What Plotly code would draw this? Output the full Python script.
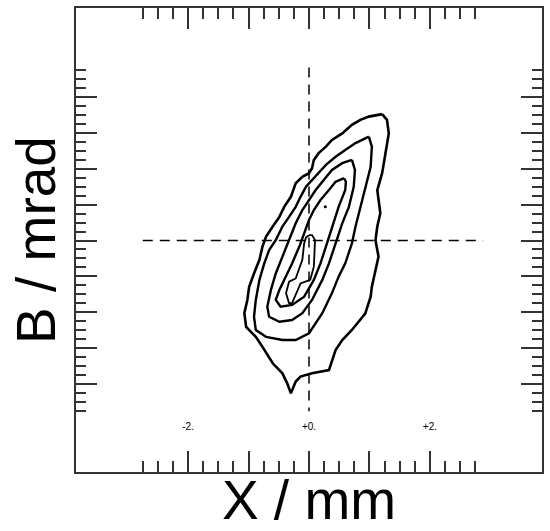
import plotly.graph_objects as go

# ---- data (x in mm, B in mrad) ----
outer_x = [1.21, 0.99, 0.85, 0.71, 0.55, 0.38, 0.28, 0.16, 0.08, 0.05, 0.00, -0.11, -0.22, -0.30, -0.41, -0.49,
           -0.60, -0.71, -0.77, -0.82, -0.91, -0.99, -1.02, -1.07, -1.04, -0.88, -0.77, -0.60, -0.44, -0.36, -0.30,
           -0.22, -0.14, 0.05, 0.33, 0.44, 0.55, 0.71, 0.93, 1.02, 1.04, 1.10, 1.15, 1.10, 1.13, 1.18, 1.13,
           1.21, 1.26, 1.32, 1.29, 1.21]
outer_y = [3.53, 3.46, 3.37, 3.23, 2.99, 2.81, 2.62, 2.44, 2.25, 2.02, 1.88, 1.78, 1.60, 1.22, 0.94, 0.66,
           0.39, 0.11, -0.17, -0.54, -0.92, -1.29, -1.66, -2.03, -2.41, -2.69, -2.97, -3.43, -3.71, -3.99, -4.27,
           -3.94, -3.80, -3.71, -3.62, -3.06, -2.78, -2.50, -2.04, -1.57, -1.29, -0.82, -0.45, 0.01, 0.39,
           0.76, 1.41, 1.88, 2.44, 2.99, 3.37, 3.53]

ring2_x = [0.99, 0.77, 0.60, 0.44, 0.28, 0.16, 0.05, -0.05, -0.14, -0.22, -0.33, -0.44, -0.55, -0.66, -0.74,
           -0.82, -0.88, -0.91, -0.88, -0.71, -0.44, -0.22, 0.00, 0.22, 0.38, 0.49, 0.60, 0.71, 0.77, 0.85, 0.93,
           1.02, 1.04, 0.99]
ring2_y = [2.90, 2.72, 2.53, 2.34, 2.11, 1.88, 1.69, 1.50, 1.22, 0.94, 0.66, 0.39, 0.01, -0.27, -0.64,
           -1.10, -1.66, -2.13, -2.50, -2.69, -2.78, -2.78, -2.59, -2.03, -1.47, -1.01, -0.64, -0.08, 0.39, 0.94,
           1.50, 2.06, 2.62, 2.90]

ring3_x = [0.71, 0.55, 0.38, 0.25, 0.11, 0.00, -0.11, -0.22, -0.33, -0.44, -0.55, -0.63, -0.69, -0.66, -0.49,
           -0.28, -0.11, 0.05, 0.22, 0.33, 0.44, 0.55, 0.66, 0.74, 0.76, 0.71]
ring3_y = [2.25, 2.16, 1.97, 1.69, 1.41, 1.13, 0.85, 0.48, 0.01, -0.45, -0.92, -1.38, -1.85, -2.13, -2.27,
           -2.22, -2.03, -1.66, -1.10, -0.64, -0.08, 0.48, 0.94, 1.50, 1.97, 2.25]

ring4_x = [0.58, 0.44, 0.33, 0.19, 0.08, 0.00, -0.08, -0.16, -0.28, -0.38, -0.49, -0.55, -0.47, -0.28, -0.08,
           0.08, 0.19, 0.28, 0.38, 0.49, 0.60, 0.61, 0.58]
ring4_y = [1.74, 1.64, 1.41, 1.13, 0.85, 0.57, 0.20, -0.17, -0.64, -1.01, -1.38, -1.66, -1.85, -1.80, -1.57,
           -1.10, -0.64, -0.17, 0.39, 0.94, 1.41, 1.64, 1.74]

ring5_x = [0.00, -0.05, -0.08, -0.11, -0.22, -0.33, -0.38, -0.33, -0.28, -0.22, -0.14, 0.02, 0.08, 0.10,
           0.05, 0.00]
ring5_y = [0.15, 0.08, -0.08, -0.54, -1.06, -1.15, -1.47, -1.75, -1.75, -1.50, -1.20, -1.10, -0.73, 0.01,
           0.15, 0.15]

peak_x = [0.27]
peak_y = [0.94]

cross_h_x = [-2.75, 2.88]
cross_h_y = [0.0, 0.0]
cross_v_x = [0.0, 0.0]
cross_v_y = [4.83, -4.77]

x_major = [-2, -1, 0, 1, 2]
x_minor = [v / 4 for v in range(-11, 12) if v % 4 != 0]
y_major = [-4, -3, -2, -1, 0, 1, 2, 3, 4]
y_minor = [v / 4 for v in range(-19, 20) if v % 4 != 0]
label_vals = [-2, 0, 2]
label_text = ["-2.", "+0.", "+2."]

x_range = [-3.855, 3.855]
y_range = [-6.466, 6.494]

FONT = "Liberation Sans, Arial, sans-serif"
AX = "#333333"

fig = go.Figure()

for xs, ys in [(cross_h_x, cross_h_y), (cross_v_x, cross_v_y)]:
    fig.add_trace(go.Scatter(x=xs, y=ys, mode="lines",
                             line=dict(color="black", width=1.5, dash="10px,7px"),
                             hoverinfo="skip", showlegend=False))

for xs, ys, w in [(outer_x, outer_y, 2.6), (ring2_x, ring2_y, 2.4), (ring3_x, ring3_y, 2.4),
                  (ring4_x, ring4_y, 2.4), (ring5_x, ring5_y, 1.8)]:
    fig.add_trace(go.Scatter(x=xs, y=ys, mode="lines",
                             line=dict(color="black", width=w, shape="linear"),
                             showlegend=False))

fig.add_trace(go.Scatter(x=peak_x, y=peak_y, mode="markers",
                         marker=dict(color="black", size=3), showlegend=False))

# tick labels drawn by an overlaid axis placed inside the frame
fig.add_trace(go.Scatter(x=label_vals, y=[None] * 3, xaxis="x2", showlegend=False, hoverinfo="skip"))

tick_common = dict(showline=True, linecolor=AX, linewidth=1.5, mirror="ticks",
                   ticks="inside", tickcolor=AX, tickwidth=1.5, ticklen=21,
                   showgrid=False, zeroline=False, showticklabels=False,
                   tickmode="array")

fig.update_layout(
    width=550, height=531,
    margin=dict(l=76, r=6, t=8, b=59),
    paper_bgcolor="white", plot_bgcolor="white",
    font=dict(family=FONT, color="black"),
    xaxis=dict(range=x_range, tickvals=x_major,
               minor=dict(tickmode="array", tickvals=x_minor, ticks="inside",
                          ticklen=11, tickwidth=1.5, tickcolor=AX),
               title=dict(text="X / mm", font=dict(size=55, family=FONT), standoff=10),
               **tick_common),
    yaxis=dict(range=y_range, tickvals=y_major,
               minor=dict(tickmode="array", tickvals=y_minor, ticks="inside",
                          ticklen=10, tickwidth=1.5, tickcolor=AX),
               title=dict(text="B / mrad", font=dict(size=55, family=FONT), standoff=1),
               **tick_common),
    xaxis2=dict(overlaying="x", matches="x", anchor="free", position=0.115, side="bottom",
                showline=False, ticks="", showgrid=False, zeroline=False,
                tickmode="array", tickvals=label_vals, ticktext=label_text,
                tickfont=dict(size=10, family=FONT, color="black")),
)

fig.write_html("out.html")
